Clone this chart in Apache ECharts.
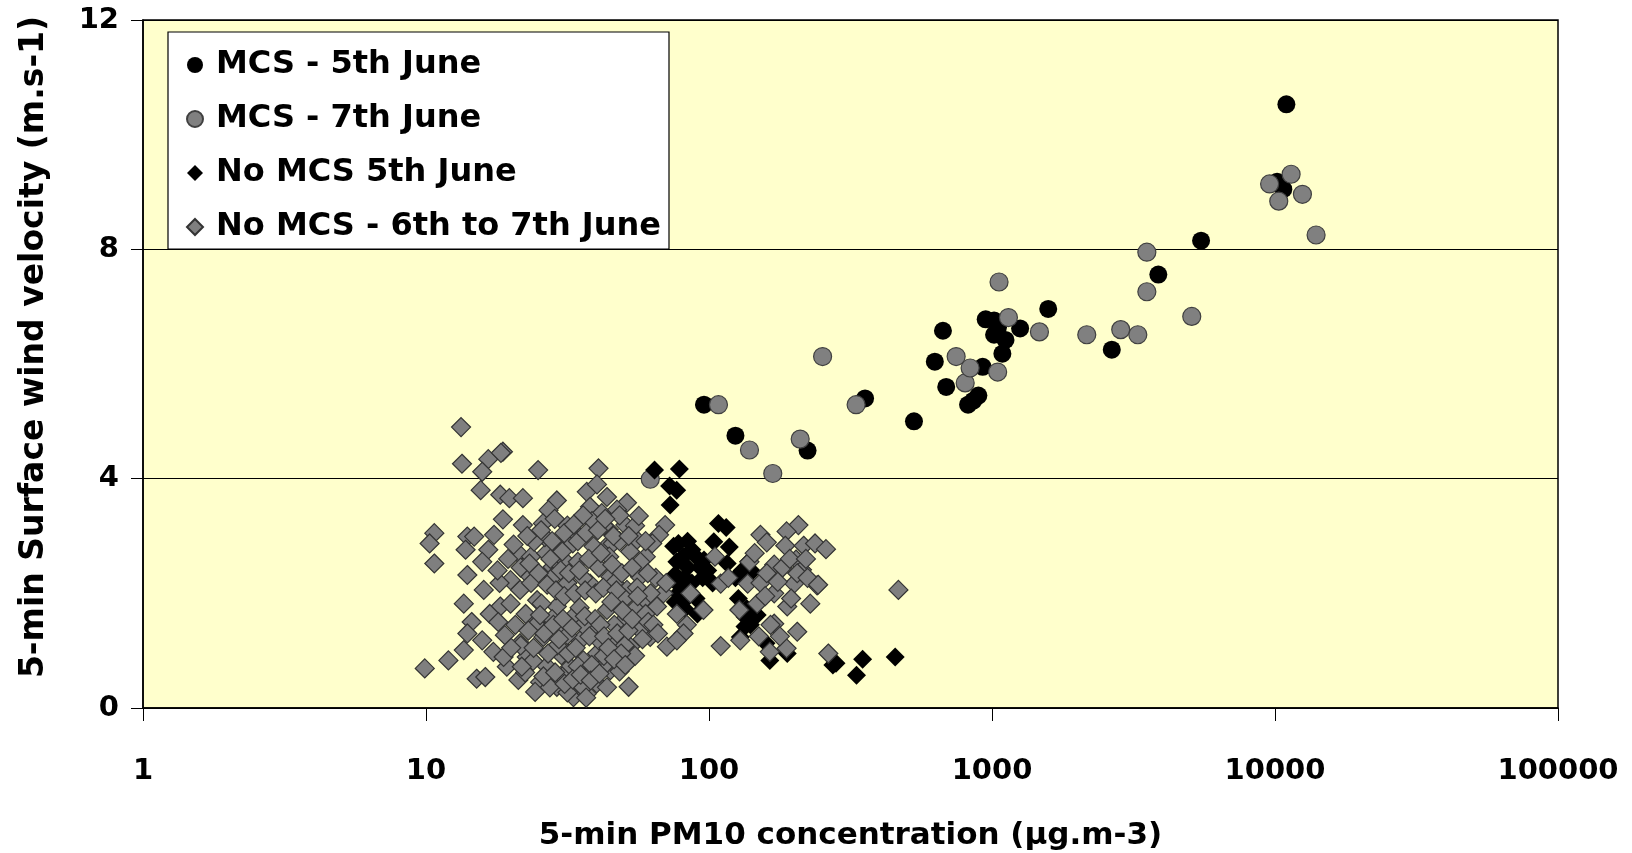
<!DOCTYPE html>
<html>
<head>
<meta charset="utf-8">
<script src="https://cdn.jsdelivr.net/npm/echarts@6/dist/echarts.min.js"></script>
<style>
html,body{margin:0;padding:0;background:#fff;}
#chart{width:1632px;height:853px;}
</style>
</head>
<body>
<div id="chart"></div>
<script>
// ---- Data (PM10 concentration µg/m3, wind velocity m/s) ----
const seriesNames = ['MCS - 5th June', 'MCS - 7th June', 'No MCS 5th June', 'No MCS - 6th to 7th June'];

const mcs5 = [
  [96,5.29],[124,4.75],[223,4.49],[356,5.40],[530,5.00],[628,6.04],[671,6.58],[689,5.60],
  [823,5.29],[859,5.36],[895,5.45],[927,5.95],[950,6.78],[1017,6.51],[1050,6.64],[1017,6.76],
  [1088,6.18],[1116,6.42],[1257,6.62],[1580,6.96],[2650,6.25],[3870,7.56],[5480,8.15],
  [10170,9.18],[10700,9.05],[10970,10.53]
];

const mcs7 = [
  [62,3.99],[108,5.29],[139,4.50],[168,4.09],[210,4.69],[252,6.13],[331,5.29],[747,6.13],
  [804,5.67],[837,5.93],[1047,5.86],[1059,7.43],[1143,6.81],[1471,6.56],[2162,6.51],
  [2850,6.60],[3275,6.51],[3525,7.95],[3525,7.26],[5080,6.83],[9570,9.14],[10310,8.84],
  [11400,9.31],[12500,8.96],[13970,8.25]
];

const noMcs5 = [
  [64.2,4.15],[78.6,4.17],[72.6,3.87],[76.9,3.80],[72.9,3.54],[108,3.22],[115,3.15],[104,2.90],
  [118,2.81],[116,2.52],[138,2.55],[142,2.38],[77.8,2.00],[80.2,1.83],[134,1.59],[148,1.62],
  [134,1.42],[159,1.13],[164,0.83],[189,0.95],[274,0.75],[281,0.78],[349,0.85],[332,0.57],
  [455,0.89],
  [75,2.82],[78,2.87],[84,2.91],[87,2.76],[90,2.64],[81,2.64],[77,2.55],[84,2.45],[93,2.45],
  [76,2.33],[82,2.27],[87,2.18],[95,2.27],[78,2.15],[85,2.04],[90,1.91],[82,1.73],[76,1.85],
  [91,1.64],[96,2.58],[99,2.40],[103,2.18],[124,2.27],[131,2.40],[136,2.18],[127,1.91],
  [136,1.73],[140,1.45],[129,1.24]
];

const noMcs67 = [
  [13.3,4.90],[13.4,4.26],[16.6,4.34],[18.7,4.47],[18.4,4.45],[15.8,4.12],[24.9,4.15],[40.7,4.18],
  [15.6,3.80],[18.3,3.72],[19.7,3.66],[22.0,3.66],[18.7,3.29],[22.0,3.19],[29.0,3.62],[27.1,3.45],
  [25.9,3.22],[37.0,3.77],[40.2,3.90],[43.6,3.68],[38.0,3.51],[41.8,3.40],[51.3,3.58],[47.3,3.46],
  [50.6,3.19],[38.6,3.26],[44.2,3.11],[55.6,2.93],[70.0,3.19],[66.6,3.02],[10.7,3.05],[10.3,2.87],
  [10.7,2.52],[14.0,2.99],[14.8,2.99],[17.4,3.02],[13.8,2.76],[16.6,2.76],[15.8,2.55],[21.2,2.70],
  [23.5,2.64],[26.6,2.70],[29.6,2.81],[33.0,2.87],[34.8,2.99],[43.3,2.81],[45.7,2.87],[38.8,2.58],
  [31.2,2.55],[28.0,2.46],[59.8,2.64],[63.0,2.87],
  [13.6,1.82],[16.0,2.06],[18.3,1.77],[14.0,2.32],[14.5,1.50],[14.0,1.30],[15.8,1.18],[13.6,1.01],
  [17.3,0.98],[9.9,0.69],[12.0,0.83],[15.1,0.51],[16.2,0.54],[19.3,0.72],[21.2,0.49],[22.7,0.89],
  [21.5,1.13],[25.3,0.45],[29.0,0.37],[33.2,0.19],[37.0,0.25],[32.3,0.72],[40.1,0.43],[44.8,0.66],
  [52.0,0.37],[26.0,1.24],[24.7,1.53],[30.6,1.36],[35.1,1.18],[40.2,0.95],[46.0,1.18],[52.7,1.07],
  [62.0,1.24],[71.0,1.07],[65.5,1.77],[58.8,1.65],[50.0,1.53],[43.6,1.71],[39.1,1.36],[34.0,1.65],
  [29.0,1.77],[24.7,1.88],[21.5,2.06],[19.9,2.23],[22.7,2.35],[28.1,2.29],[32.3,2.06],[38.0,2.17],
  [44.8,2.29],[51.3,2.06],[57.0,2.29],[69.0,2.00],[58.8,1.88],[36.0,0.83],[30.1,0.92],[18.8,0.89],
  [43.5,0.78],
  [26.3,2.98],[27.9,2.91],[30.3,2.73],[34.4,2.55],[31.6,2.18],[35.9,2.27],[40.8,2.45],[46.3,2.18],
  [50.4,1.91],[54.8,1.73],[25.6,1.82],[27.9,1.55],[31.6,1.27],[35.9,1.45],[40.8,1.18],[46.3,1.45],
  [50.4,1.09],[54.8,0.91],[26.7,0.73],[29.1,1.09],[24.5,1.45],[22.5,1.64],[20.7,1.45],[19.9,1.82],
  [21.6,2.45],[23.5,2.18],[18.2,2.18],[16.8,1.64],[19.0,1.27],[30.3,0.55],[34.4,0.73],[39.1,0.64],
  [42.5,0.91],[48.3,0.64],[57.2,1.36],[59.7,1.64],[62.2,2.00],[64.9,2.27],[57.2,2.55],[52.6,2.73],
  [48.3,2.91],[44.4,2.64],[39.1,2.82],[34.4,2.91],[31.6,3.18],[35.9,3.36],[42.5,3.18],[48.3,3.36],
  [54.8,3.18],[59.7,2.91],[21.6,1.09],[23.9,0.82],[27.4,0.36],[31.6,0.27],[35.9,0.36],[43.6,0.36],
  [83.5,1.45],[70.6,2.18],[77,1.64],
  [23.2,2.52],[24.1,2.90],[25.0,2.35],[26.8,2.15],[27.5,2.60],[28.8,2.05],[29.9,2.40],[30.8,1.95],
  [32.0,2.35],[33.5,2.00],[34.8,2.40],[36.5,2.05],[37.6,2.60],[39.8,2.00],[41.5,2.70],[42.3,2.10],
  [45.5,2.50],[47.1,2.05],[49.2,2.35],[53.5,2.45],[55.7,2.10],[60.8,2.35],
  [23.0,1.35],[24.0,1.05],[25.3,1.62],[26.2,1.30],[27.0,0.95],[28.2,1.45],[29.5,1.20],[30.5,1.55],
  [31.8,0.95],[32.8,1.40],[33.8,1.05],[34.9,1.75],[36.4,1.60],[37.8,1.25],[38.5,0.75],[39.6,1.55],
  [41.3,1.45],[42.6,1.25],[44.1,1.05],[45.2,1.85],[47.4,1.30],[48.9,0.95],[49.5,1.70],[51.9,1.35],
  [53.6,1.55],[56.0,1.95],[58.2,1.20],[61.0,1.50],[63.6,1.45],[66.0,1.30],
  [22.4,0.62],[24.3,0.28],[26.0,0.55],[28.6,0.62],[30.9,0.42],[33.0,0.50],[35.2,0.58],[36.8,0.18],
  [38.2,0.48],[41.0,0.60],[46.2,0.85],[50.6,0.75],
  [22.8,3.00],[25.5,3.10],[28.5,3.30],[30.8,3.05],[33.3,3.20],[36.8,3.05],[40.5,3.10],[43.0,3.30],
  [46.0,3.00],[52.0,3.00],[56.5,3.35],
  [19.5,2.60],[20.4,2.85],[17.9,2.40],[20.0,1.05],[18.0,1.50],[21.8,0.72],
  [207,3.19],[188,3.08],[152,3.02],[160,2.89],[186,2.83],[216,2.83],[237,2.87],[259,2.77],
  [203,2.59],[170,2.50],[105,2.64],[213,2.41],[467,2.06],[110,1.08],[129,1.18],[164,0.98],
  [188,1.04],[264,0.95],[205,1.33],[241,2.14],[228,1.82],[189,1.77],[170,2.00],[200,2.17],
  [137,2.17],[128,1.71],[148,1.82],[170,1.47],[95.6,1.71],[81.3,1.30],[77,1.18],[86,2.00],
  [110,2.17],[205,2.35],[117,2.27],[223,2.27],[243,2.15],[182,2.45],[195,1.91],[165,1.45],
  [152,2.18],[139,2.55],
  [145,2.70],[175,2.20],[158,1.95],[193,2.60],[178,1.25],[220,2.60],[150,1.25],[160,2.35]
];

const xTicks = [1, 10, 100, 1000, 10000, 100000];
const yTicks = [0, 4, 8, 12];

const FONT = 'DejaVu Sans';

const chart = echarts.init(document.getElementById('chart'), null, {renderer: 'canvas'});

function scatter(name, data, symbol, size, color, border) {
  return {
    name: name,
    type: 'scatter',
    data: data,
    symbol: symbol,
    symbolSize: size,
    itemStyle: {
      color: color,
      borderColor: border,
      borderWidth: border === color ? 0 : 1.2,
      opacity: 1
    },
    emphasis: {disabled: true},
    animation: false
  };
}

chart.setOption({
  backgroundColor: '#ffffff',
  animation: false,
  grid: {
    left: 143, right: 74, top: 20, bottom: 145,
    containLabel: false,
    outerBoundsMode: 'none',
    show: true,
    backgroundColor: '#FFFFCC',
    borderColor: '#000000',
    borderWidth: 1.5
  },
  legend: {
    orient: 'vertical',
    left: 168,
    top: 32,
    padding: [17, 8, 6, 18],
    itemWidth: 16,
    itemHeight: 16,
    itemGap: 22,
    backgroundColor: '#ffffff',
    borderColor: '#000000',
    borderWidth: 1.2,
    borderRadius: 0,
    data: seriesNames,
    textStyle: {
      fontFamily: FONT,
      fontWeight: 'bold',
      fontSize: 32,
      lineHeight: 32,
      color: '#000',
      padding: [0, 0, 0, 8]
    }
  },
  xAxis: {
    type: 'log',
    logBase: 10,
    min: xTicks[0],
    max: xTicks[xTicks.length - 1],
    name: '5-min PM10 concentration (µg.m-3)',
    nameLocation: 'middle',
    nameGap: 112,
    nameTextStyle: {fontFamily: FONT, fontWeight: 'bold', fontSize: 31, color: '#000'},
    axisLine: {show: true, onZero: false, lineStyle: {color: '#000', width: 1.5}},
    axisTick: {show: true, inside: false, length: 13, lineStyle: {color: '#000', width: 1}},
    minorTick: {show: false},
    splitLine: {show: false},
    axisLabel: {
      margin: 49,
      fontFamily: FONT, fontWeight: 'bold', fontSize: 29, color: '#000',
      formatter: function (v) { return String(Math.round(v)); }
    }
  },
  yAxis: {
    type: 'value',
    min: yTicks[0],
    max: yTicks[yTicks.length - 1],
    interval: 4,
    name: '5-min Surface wind velocity (m.s-1)',
    nameLocation: 'middle',
    nameGap: 92,
    nameRotate: 90,
    nameTextStyle: {fontFamily: FONT, fontWeight: 'bold', fontSize: 33, color: '#000', padding: [0, 0, 0, 34]},
    axisLine: {show: true, lineStyle: {color: '#000', width: 1.5}},
    axisTick: {show: true, inside: false, length: 12, lineStyle: {color: '#000', width: 1}},
    splitLine: {show: true, lineStyle: {color: '#000', width: 1.2}},
    axisLabel: {
      margin: 24,
      fontFamily: FONT, fontWeight: 'bold', fontSize: 29, color: '#000'
    }
  },
  series: [
    scatter(seriesNames[0], mcs5, 'circle', 18, '#000000', '#000000'),
    scatter(seriesNames[1], mcs7, 'circle', 18, '#808080', '#404040'),
    scatter(seriesNames[2], noMcs5, 'diamond', 19, '#000000', '#000000'),
    scatter(seriesNames[3], noMcs67, 'diamond', 19, '#7f7f7f', '#333333')
  ]
});
</script>
</body>
</html>
